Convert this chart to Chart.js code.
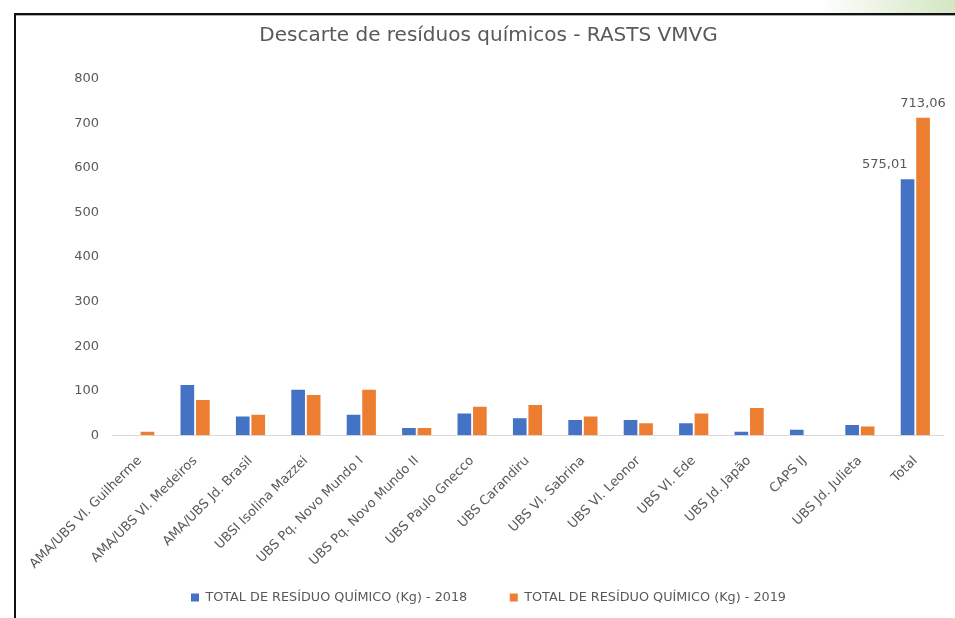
<!DOCTYPE html>
<html>
<head>
<meta charset="utf-8">
<script src="https://cdn.jsdelivr.net/npm/chart.js@4.4.1/dist/chart.umd.min.js"></script>
<style>
  html, body { margin: 0; padding: 0; background: #ffffff; }
  body { width: 955px; height: 618px; position: relative; overflow: hidden; }
  #green { position: absolute; left: 820px; top: 0; width: 135px; height: 13px;
           background: linear-gradient(to right, #ffffff, #d3e6c2); }
  #frameTop { position: absolute; left: 14px; top: 13px; width: 941px; height: 2px; background: #111; }
  #frameShade { position: absolute; left: 16px; top: 15px; width: 939px; height: 1px; background: #aaa; }
  #frameLeft { position: absolute; left: 14px; top: 13px; width: 2px; height: 605px; background: #111; }
  #wrap { position: absolute; left: 0; top: 0; width: 955px; height: 618px; }
</style>
</head>
<body>
<div id="green"></div>
<div id="frameTop"></div>
<div id="frameShade"></div>
<div id="frameLeft"></div>
<div id="wrap"><canvas id="c" width="955" height="618"></canvas></div>
<script>
const title = "Descarte de resíduos químicos - RASTS VMVG";
const categories = [
  "AMA/UBS Vl. Guilherme", "AMA/UBS Vl. Medeiros", "AMA/UBS Jd. Brasil",
  "UBSI Isolina Mazzei", "UBS Pq. Novo Mundo I", "UBS Pq. Novo Mundo II",
  "UBS Paulo Gnecco", "UBS Carandiru", "UBS Vl. Sabrina", "UBS Vl. Leonor",
  "UBS Vl. Ede", "UBS Jd. Japão", "CAPS IJ", "UBS Jd. Julieta", "Total"
];
const series2018Label = "TOTAL DE RESÍDUO QUÍMICO (Kg) - 2018";
const series2019Label = "TOTAL DE RESÍDUO QUÍMICO (Kg) - 2019";
const values2018 = [0, 113, 42, 102, 46, 16, 49, 38, 34, 34, 27, 8, 12, 23, 575.01];
const values2019 = [8, 79, 46, 90.5, 102, 16, 64, 68, 42, 27, 49, 61, 0, 19.5, 713.06];
const yTicks = [0, 100, 200, 300, 400, 500, 600, 700, 800];
const labelledIndex = categories.length - 1;

const FONT = "'DejaVu Sans', sans-serif";
const TEXT = "#595959";

const totalLabels = {
  id: 'totalLabels',
  afterDatasetsDraw(chart) {
    const ctx = chart.ctx;
    ctx.save();
    ctx.font = "13px " + FONT;
    ctx.fillStyle = TEXT;
    ctx.textBaseline = 'bottom';
    chart.data.datasets.forEach((ds, di) => {
      const el = chart.getDatasetMeta(di).data[labelledIndex];
      const v = ds.data[labelledIndex];
      const txt = v.toFixed(2).replace('.', ',');
      ctx.textAlign = di === 0 ? 'right' : 'center';
      ctx.fillText(txt, el.x, el.y - 8);
    });
    ctx.restore();
  }
};

new Chart(document.getElementById('c'), {
  type: 'bar',
  data: {
    labels: categories,
    datasets: [
      { label: series2018Label, data: values2018, backgroundColor: '#4472C4',
        borderWidth: 0, categoryPercentage: 0.56, barPercentage: 0.88 },
      { label: series2019Label, data: values2019, backgroundColor: '#ED7D31',
        borderWidth: 0, categoryPercentage: 0.56, barPercentage: 0.88 }
    ]
  },
  options: {
    responsive: false,
    animation: false,
    devicePixelRatio: 1,
    layout: { padding: { left: 34, right: 12, top: 0, bottom: 4 } },
    plugins: {
      title: { display: true, text: title, color: TEXT,
        font: { family: FONT, size: 20, weight: 'normal', lineHeight: 1.2 },
        padding: { top: 24, bottom: 31 } },
      legend: { position: 'bottom',
        labels: { color: TEXT, font: { family: FONT, size: 12.8 },
          boxWidth: 8, boxHeight: 8, padding: 10,
          generateLabels(chart) {
            const items = Chart.defaults.plugins.legend.labels.generateLabels(chart);
            items.forEach((it, i) => { if (i < items.length - 1) it.text = it.text + '        '; });
            return items;
          } } },
      tooltip: { enabled: false }
    },
    scales: {
      x: {
        grid: { display: false },
        border: { display: true, color: '#d9d9d9', width: 1 },
        ticks: { color: TEXT, font: { family: FONT, size: 13 },
          maxRotation: 45, minRotation: 45, autoSkip: false, padding: 10 },
        afterFit(scale) { scale.height = 146; }
      },
      y: {
        min: 0, max: 800,
        afterBuildTicks(scale) { scale.ticks = yTicks.map(v => ({ value: v })); },
        grid: { display: false },
        border: { display: false },
        ticks: { color: TEXT, font: { family: FONT, size: 13 }, padding: 5 },
        afterFit(scale) { scale.width = 78; }
      }
    }
  },
  plugins: [totalLabels]
});
</script>
</body>
</html>
